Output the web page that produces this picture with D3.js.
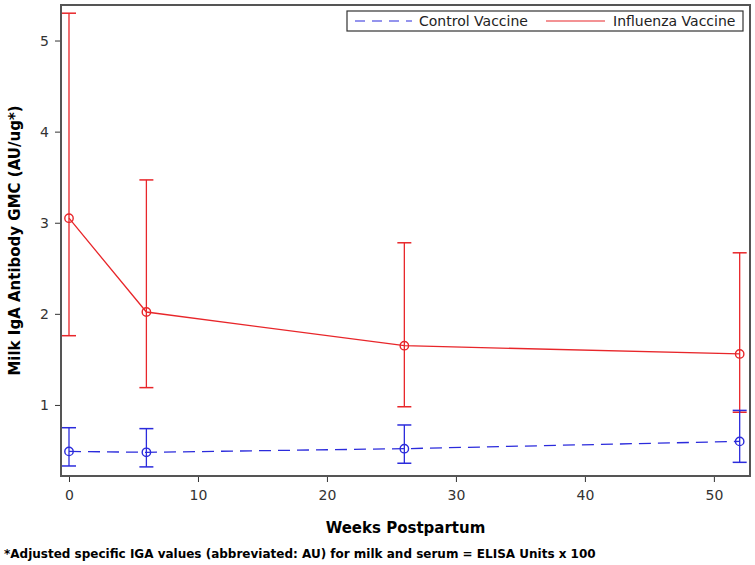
<!DOCTYPE html>
<html>
<head>
<meta charset="utf-8">
<script src="https://cdn.jsdelivr.net/npm/d3@7"></script>
<style>
  body { margin: 0; background: #fff; }
  svg { display: block; font-family: "DejaVu Sans", sans-serif; }
</style>
</head>
<body>
<svg id="chart" width="755" height="565"></svg>
<script>
// weeks postpartum
var weeks = [0, 6, 26, 52];

// influenza vaccine GMC with 95% CI
var fluMean  = [3.05, 2.02, 1.65, 1.56];
var fluLower = [1.76, 1.19, 0.98, 0.92];
var fluUpper = [5.30, 3.47, 2.78, 2.67];

// control vaccine GMC with 95% CI
var ctlMean  = [0.49, 0.48, 0.52, 0.60];
var ctlLower = [0.33, 0.32, 0.36, 0.37];
var ctlUpper = [0.75, 0.74, 0.78, 0.94];

var xTicks = [0, 10, 20, 30, 40, 50];
var yTicks = [1, 2, 3, 4, 5];

var svg = d3.select("#chart");

var plot = {left: 61, top: 5, right: 750, bottom: 476};

var x = d3.scaleLinear().domain([-0.62, 52.8]).range([plot.left, plot.right]);
var y = d3.scaleLinear().domain([0.22, 5.39]).range([plot.bottom, plot.top]);

// axes
var xAxis = svg.append("g")
  .attr("transform", "translate(0," + plot.bottom + ")")
  .call(d3.axisBottom(x).tickValues(xTicks).tickSize(6).tickPadding(8).tickFormat(d3.format("d")));
var yAxis = svg.append("g")
  .attr("transform", "translate(" + plot.left + ",0)")
  .call(d3.axisLeft(y).tickValues(yTicks).tickSize(6).tickPadding(6).tickFormat(d3.format("d")));

[xAxis, yAxis].forEach(function(a){
  a.select(".domain").remove();
  a.selectAll(".tick line").attr("stroke", "#333");
  a.selectAll(".tick text").attr("fill", "#333").style("font-size", "14px")
    .style("font-family", "DejaVu Sans, sans-serif");
});

// frame
svg.append("rect")
  .attr("x", plot.left).attr("y", plot.top)
  .attr("width", plot.right - plot.left).attr("height", plot.bottom - plot.top)
  .attr("fill", "none").attr("stroke", "#555").attr("stroke-width", 2);

function drawSeries(mean, lower, upper, color, dash) {
  var pts = weeks.map(function(w, i){ return {w: w, m: mean[i], lo: lower[i], hi: upper[i]}; });
  var g = svg.append("g");

  g.append("path")
    .datum(pts)
    .attr("fill", "none")
    .attr("stroke", color)
    .attr("stroke-width", 1.3)
    .attr("stroke-dasharray", dash)
    .attr("d", d3.line().x(function(d){ return x(d.w); }).y(function(d){ return y(d.m); }));

  var bars = g.selectAll(".err").data(pts).enter().append("g");
  bars.append("line")
    .attr("x1", function(d){ return x(d.w); }).attr("x2", function(d){ return x(d.w); })
    .attr("y1", function(d){ return y(d.lo); }).attr("y2", function(d){ return y(d.hi); })
    .attr("stroke", color).attr("stroke-width", 1.3);
  ["lo", "hi"].forEach(function(k){
    bars.append("line")
      .attr("x1", function(d){ return x(d.w) - 7; }).attr("x2", function(d){ return x(d.w) + 7; })
      .attr("y1", function(d){ return y(d[k]); }).attr("y2", function(d){ return y(d[k]); })
      .attr("stroke", color).attr("stroke-width", 1.5);
  });

  g.selectAll("circle").data(pts).enter().append("circle")
    .attr("cx", function(d){ return x(d.w); })
    .attr("cy", function(d){ return y(d.m); })
    .attr("r", 4.2)
    .attr("fill", "none")
    .attr("stroke", color)
    .attr("stroke-width", 1.4);
}

drawSeries(fluMean, fluLower, fluUpper, "#e8262a", null);
drawSeries(ctlMean, ctlLower, ctlUpper, "#2b2bdc", "12,7");

// legend
var leg = svg.append("g");
leg.append("rect")
  .attr("x", 347).attr("y", 11).attr("width", 396).attr("height", 20)
  .attr("fill", "#fff").attr("stroke", "#333").attr("stroke-width", 1.2);
leg.append("line")
  .attr("x1", 355).attr("x2", 412).attr("y1", 21).attr("y2", 21)
  .attr("stroke", "#2b2bdc").attr("stroke-width", 1.2).attr("stroke-dasharray", "10,7");
leg.append("text").attr("x", 419).attr("y", 26).text("Control Vaccine")
  .style("font-size", "14px").attr("fill", "#222");
leg.append("line")
  .attr("x1", 546).attr("x2", 605).attr("y1", 21).attr("y2", 21)
  .attr("stroke", "#e8262a").attr("stroke-width", 1.2);
leg.append("text").attr("x", 613).attr("y", 26).text("Influenza Vaccine")
  .style("font-size", "14px").attr("fill", "#222");

// axis titles
svg.append("text")
  .attr("x", (plot.left + plot.right) / 2).attr("y", 533)
  .attr("text-anchor", "middle")
  .style("font-size", "15px").style("font-weight", "bold")
  .text("Weeks Postpartum");

svg.append("text")
  .attr("transform", "translate(20," + ((plot.top + plot.bottom) / 2) + ") rotate(-90)")
  .attr("text-anchor", "middle")
  .style("font-size", "15px").style("font-weight", "bold")
  .text("Milk IgA Antibody GMC (AU/ug*)");

// footnote
svg.append("text")
  .attr("x", 4).attr("y", 558)
  .style("font-size", "12px").style("font-weight", "bold")
  .text("*Adjusted specific IGA values (abbreviated: AU) for milk and serum = ELISA Units x 100");
</script>
</body>
</html>
